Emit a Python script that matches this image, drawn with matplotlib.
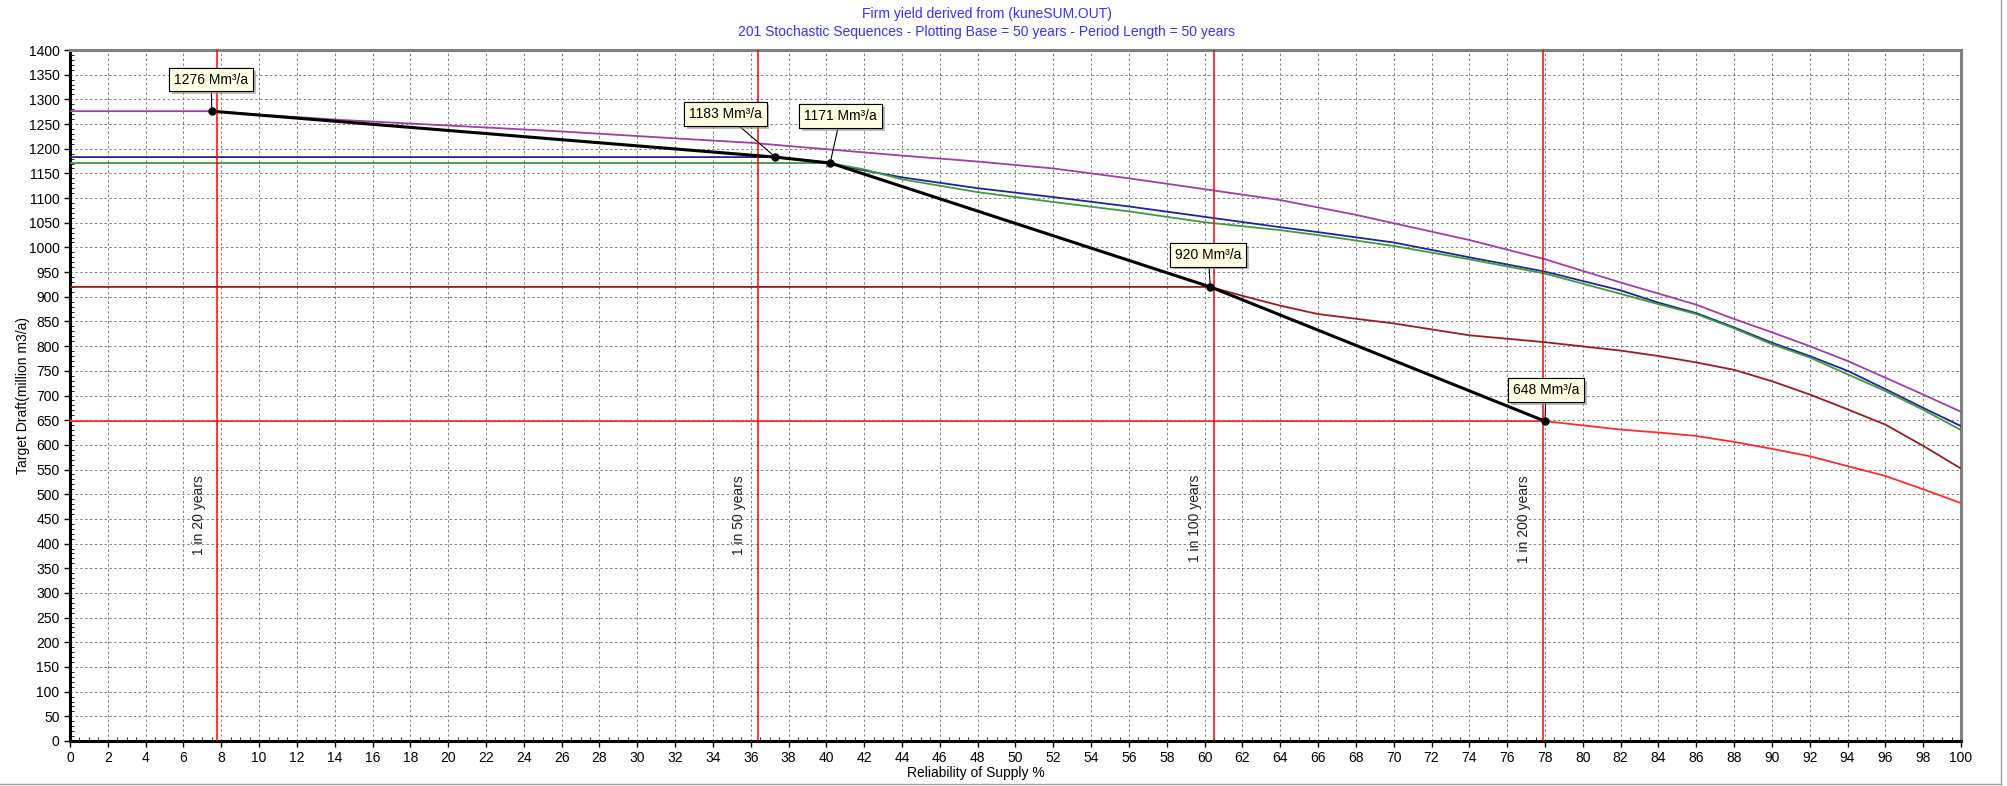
import matplotlib
matplotlib.use("Agg")
import matplotlib.pyplot as plt
from matplotlib.ticker import MultipleLocator
from matplotlib import patheffects
from matplotlib.lines import Line2D

plt.rcParams['font.family'] = ['Liberation Sans', 'DejaVu Sans']

# yield curves (reliability % -> target draft, million m3/a)
rel_1276 = [0, 7.5, 10, 14, 20, 26, 32, 36, 40, 44, 48, 52, 56, 60, 64, 68, 70, 74, 78, 82, 86, 88, 90, 92, 94, 96, 98, 100]
draft_1276 = [1276, 1276, 1269, 1259, 1247, 1235, 1221, 1212, 1199, 1186, 1174, 1160, 1140, 1118, 1096, 1066, 1049, 1015, 976, 929, 884, 855, 828, 800, 770, 736, 702, 667]

rel_1183 = [0, 37.3, 40, 42, 44, 48, 52, 56, 60, 64, 66, 70, 74, 78, 82, 84, 86, 88, 90, 92, 94, 96, 98, 100]
draft_1183 = [1183, 1183, 1171, 1156, 1142, 1120, 1102, 1083, 1062, 1041, 1031, 1010, 980, 951, 913, 888, 867, 838, 807, 780, 750, 713, 675, 638]

rel_1171 = [0, 40.2, 42, 44, 48, 52, 56, 60, 64, 66, 70, 74, 78, 82, 84, 86, 88, 90, 92, 94, 96, 98, 100]
draft_1171 = [1171, 1171, 1158, 1138, 1112, 1092, 1073, 1051, 1035, 1025, 1003, 976, 947, 906, 885, 865, 836, 804, 777, 743, 709, 671, 630]

rel_920 = [0, 60.3, 62, 64, 66, 70, 74, 78, 82, 84, 86, 88, 90, 92, 94, 96, 98, 100]
draft_920 = [920, 920, 902, 882, 865, 846, 822, 808, 791, 780, 767, 752, 729, 702, 672, 641, 598, 552]

rel_648 = [0, 78, 82, 84, 86, 88, 90, 92, 94, 96, 98, 100]
draft_648 = [648, 648, 631, 625, 618, 606, 592, 577, 557, 537, 510, 482]

# firm yield points
firm_rel = [7.5, 37.3, 40.2, 60.3, 78.0]
firm_yield = [1276, 1183, 1171, 920, 648]
label_pos = [(7.46, 1340), (34.66, 1270), (40.75, 1266), (60.2, 985), (78.05, 711)]

# return period lines
period_rel = [7.8, 36.4, 60.5, 77.9]
period_labels = ["1 in 20 years", "1 in 50 years", "1 in 100 years", "1 in 200 years"]

fig = plt.figure(figsize=(20.08, 7.86), dpi=100)
ax = fig.add_axes([70/2008, 1 - 741/786, (1961-70)/2008, (741-50)/786])

ax.plot(rel_1276, draft_1276, color='#a23ca8', lw=1.3, zorder=3)
ax.plot(rel_1183, draft_1183, color='#22229c', lw=1.3, zorder=3)
ax.plot(rel_1171, draft_1171, color='#3c9c3c', lw=1.3, zorder=3)
ax.plot(rel_920, draft_920, color='#9b1c1c', lw=1.3, zorder=3)
ax.plot(rel_648, draft_648, color='#ff2a2a', lw=1.3, zorder=3)

for x, lab in zip(period_rel, period_labels):
    ax.axvline(x, color='#ff0000', lw=1.1, zorder=4)
    ax.text(x - 1.0, 539, lab, rotation=90, ha='center', va='top',
            fontsize=10, color='#202020', zorder=4)

ax.plot(firm_rel, firm_yield, color='black', lw=2.2, marker='o', ms=5, zorder=5)

for x, y, (tx, ty) in zip(firm_rel, firm_yield, label_pos):
    ann = ax.annotate(f"{y} Mm³/a", xy=(x, y), xytext=(tx, ty),
                      ha='center', va='center', fontsize=10, zorder=6,
                      bbox=dict(boxstyle='square,pad=0.35', fc='#ffffe1', ec='black', lw=0.8),
                      arrowprops=dict(arrowstyle='-', color='black', lw=0.8, shrinkA=0, shrinkB=0))
    ann.get_bbox_patch().set_path_effects([
        patheffects.withSimplePatchShadow(offset=(2, -2), shadow_rgbFace='#909090', alpha=0.6),
        patheffects.Normal()])

ax.set_xlim(0, 100)
ax.set_ylim(0, 1400)
ax.xaxis.set_major_locator(MultipleLocator(2))
ax.xaxis.set_minor_locator(MultipleLocator(0.5))
ax.yaxis.set_major_locator(MultipleLocator(50))
ax.yaxis.set_minor_locator(MultipleLocator(10))
ax.tick_params(which='major', direction='out', length=4, width=1, labelsize=10, colors='black')
ax.tick_params(which='minor', direction='in', length=3, width=0.6)
ax.grid(True, which='major', color='#808080', linestyle=(0, (2.5, 2.5)), lw=0.7)
ax.set_axisbelow(True)

for s in ['left', 'bottom']:
    ax.spines[s].set_linewidth(2.2)
    ax.spines[s].set_color('black')
for s in ['top', 'right']:
    ax.spines[s].set_linewidth(2.2)
    ax.spines[s].set_color('#808080')

fig.text(987/2008, 1 - 14/786, "Firm yield derived from (kuneSUM.OUT)", ha='center', va='center',
         fontsize=10, color='#3333ff')
fig.text(987/2008, 1 - 32/786, "201 Stochastic Sequences - Plotting Base = 50 years - Period Length = 50 years",
         ha='center', va='center', fontsize=10, color='#3333ff')
fig.text(23/2008, 1 - 395/786, "Target Draft(million m3/a)", rotation=90, ha='center', va='center',
         fontsize=10)
fig.text(976/2008, 1 - 773/786, "Reliability of Supply %", ha='center', va='center', fontsize=10)

# window frame edges
fig.add_artist(Line2D([2001/2008, 2001/2008], [1 - 784/786, 1], transform=fig.transFigure, color='#a0a0a0', lw=1))
fig.add_artist(Line2D([0, 2001/2008], [1 - 784/786, 1 - 784/786], transform=fig.transFigure, color='#a0a0a0', lw=1))

fig.savefig("out.png", dpi=100)
